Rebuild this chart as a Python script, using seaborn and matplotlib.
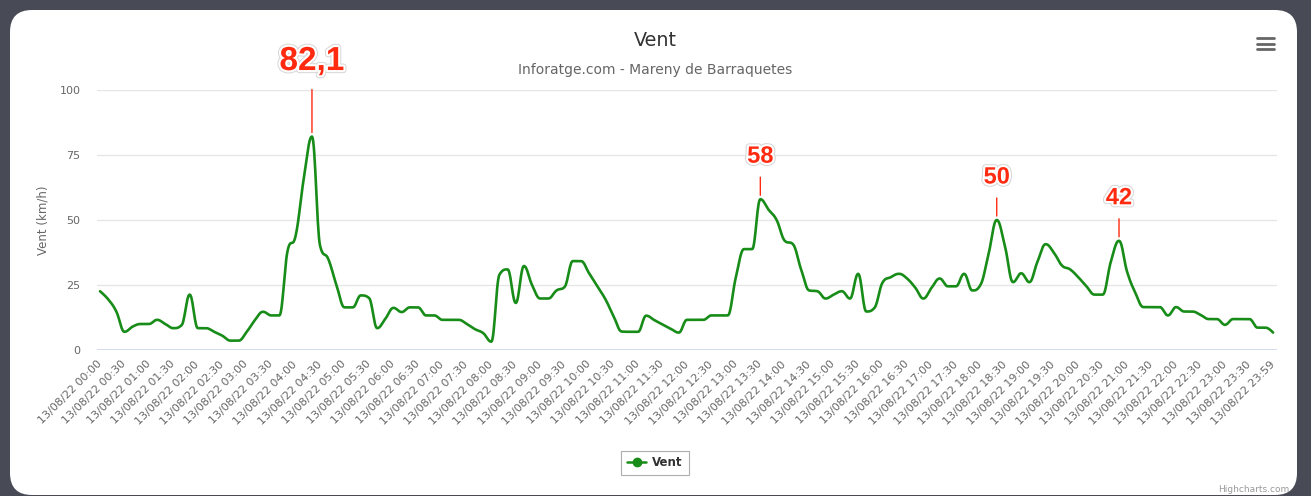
import numpy as np
import pandas as pd
import matplotlib
matplotlib.use("Agg")
import matplotlib.pyplot as plt
import seaborn as sns
from matplotlib.patches import FancyBboxPatch
from matplotlib.transforms import IdentityTransform, offset_copy
from matplotlib.lines import Line2D
import matplotlib.patheffects as pe

# ---------------- data ----------------
minutes = list(range(0, 1440, 10)) + [1439]
wind = [
    22.6, 19.5, 14.8, 7.0, 9.0, 10.0, 10.0, 11.6, 10.0, 8.4, 9.5, 21.3,
    8.4, 8.4, 7.0, 5.5, 3.6, 3.6, 7.0, 11.5, 14.7, 13.3, 13.3, 38.0,
    44.0, 66.0, 82.1, 40.0, 35.0, 25.0, 16.4, 16.4, 21.0, 20.0, 8.4, 12.0,
    16.2, 14.6, 16.4, 16.4, 13.3, 13.3, 11.6, 11.6, 11.6, 10.0, 8.0, 6.5,
    3.2, 29.0, 31.0, 18.1, 32.3, 25.0, 19.8, 19.8, 22.9, 24.3, 34.2, 34.2,
    29.5, 24.5, 19.5, 13.0, 7.1, 7.0, 7.0, 13.2, 11.5, 9.8, 8.2, 6.7,
    11.6, 11.6, 11.6, 13.3, 13.3, 13.3, 28.0, 38.8, 38.8, 58.0, 54.0, 50.0,
    42.0, 40.7, 31.0, 22.9, 22.6, 19.8, 21.3, 22.6, 19.8, 29.3, 14.8, 16.2,
    26.0, 28.0, 29.3, 27.5, 24.0, 19.8, 23.9, 27.5, 24.5, 24.5, 29.3, 22.9,
    25.0, 37.0, 50.0, 40.0, 26.1, 29.5, 26.1, 34.0, 40.7, 37.5, 32.5, 31.0,
    28.0, 24.5, 21.3, 21.3, 34.0, 42.0, 30.0, 22.0, 16.5, 16.5, 16.5, 13.3,
    16.5, 14.8, 14.8, 13.5, 11.9, 11.9, 9.7, 11.9, 11.9, 11.9, 8.6, 8.6,
    6.7,
]
tick_minutes = list(range(0, 1440, 30)) + [1439]
tick_labels = ["13/08/22 %02d:%02d" % (m // 60, m % 60) for m in tick_minutes]
y_ticks = [0, 25, 50, 75, 100]

ann_minutes = [260, 810, 1100, 1250]
ann_values = [82.1, 58, 50, 42]
ann_labels = ["82,1", "58", "50", "42"]

title = "Vent"
subtitle = "Inforatge.com - Mareny de Barraquetes"
y_title = "Vent (km/h)"
series_name = "Vent"


# ---------------- Highcharts-like spline ----------------
def hc_spline(xs, ys, n=16):
    N = len(xs)
    left = [None] * N
    right = [None] * N
    for i in range(N):
        x, y = xs[i], ys[i]
        if i == 0 or i == N - 1:
            left[i] = (x, y)
            right[i] = (x, y)
            continue
        lx, ly = xs[i - 1], ys[i - 1]
        nx, ny = xs[i + 1], ys[i + 1]
        lcx = (1.5 * x + lx) / 2.5
        lcy = (1.5 * y + ly) / 2.5
        rcx = (1.5 * x + nx) / 2.5
        rcy = (1.5 * y + ny) / 2.5
        if rcx != lcx:
            corr = ((rcy - lcy) * (rcx - x)) / (rcx - lcx) + y - rcy
            lcy += corr
            rcy += corr
        if lcy > ly and lcy > y:
            lcy = max(ly, y)
            rcy = 2 * y - lcy
        elif lcy < ly and lcy < y:
            lcy = min(ly, y)
            rcy = 2 * y - lcy
        if rcy > ny and rcy > y:
            rcy = max(ny, y)
            lcy = 2 * y - rcy
        elif rcy < ny and rcy < y:
            rcy = min(ny, y)
            lcy = 2 * y - rcy
        left[i] = (lcx, lcy)
        right[i] = (rcx, rcy)
    tt = np.linspace(0, 1, n)
    X, Y = [xs[0]], [ys[0]]
    for i in range(1, N):
        p0 = np.array([xs[i - 1], ys[i - 1]])
        p1 = np.array(right[i - 1])
        p2 = np.array(left[i])
        p3 = np.array([xs[i], ys[i]])
        for t in tt[1:]:
            p = ((1 - t) ** 3) * p0 + 3 * ((1 - t) ** 2) * t * p1 + 3 * (1 - t) * t * t * p2 + t ** 3 * p3
            X.append(p[0])
            Y.append(p[1])
    return np.array(X), np.array(Y)


sx, sy = hc_spline(minutes, wind)
df = pd.DataFrame({"t": sx, "v": sy})

# ---------------- figure ----------------
sns.set_style("white")
plt.rcParams["font.family"] = ["DejaVu Sans"]

W, H = 1311, 496
fig = plt.figure(figsize=(W / 100, H / 100), dpi=100)
fig.patch.set_facecolor("#484b55")

panel = FancyBboxPatch((10, 1), 1287, 485, boxstyle="round,pad=0,rounding_size=22",
                       facecolor="white", edgecolor="none", transform=IdentityTransform(),
                       zorder=-10)
fig.add_artist(panel)

ax = fig.add_axes([97 / W, 1 - 350 / H, (1277 - 97) / W, 260 / H])
ax.set_facecolor("none")

green = "#188c18"
sns.lineplot(data=df, x="t", y="v", sort=False, estimator=None, color=green,
             linewidth=1.9, ax=ax, legend=False)

ax.set_xlim(-3.7, 1443.8)
ax.set_ylim(0, 100)
for s in ax.spines.values():
    s.set_visible(False)
ax.set_yticks(y_ticks)
ax.set_yticklabels([str(v) for v in y_ticks])
ax.yaxis.grid(True, color="#e6e6e6", linewidth=1)
ax.xaxis.grid(False)
ax.axhline(0, color="#ccd6eb", linewidth=1.2, zorder=1)
ax.set_xticks(tick_minutes)
ax.set_xticklabels(tick_labels, rotation=45, ha="right", va="center",
                   rotation_mode="anchor")
ax.tick_params(axis="x", length=0, pad=9, labelsize=8, labelcolor="#666666")
ax.tick_params(axis="y", length=0, pad=12, labelsize=8, labelcolor="#666666")
ax.set_xlabel("")
ax.set_ylabel("")

# annotations
red = "#ff2a10"
line_len = [43, 18, 18, 18]
line_gap = [4, 4, 4, 4]
text_gap = [28, 21, 21, 21]
fsizes = [24, 17, 17, 17]
halo = [pe.Stroke(linewidth=4.5, foreground="#d8d8d8"),
        pe.Stroke(linewidth=3, foreground="white"), pe.Normal()]
for t, v, lab, ll, lg, tg, fs in zip(ann_minutes, ann_values, ann_labels,
                                     line_len, line_gap, text_gap, fsizes):
    ax.annotate("", xy=(t, v), xycoords=offset_copy(ax.transData, fig=fig, x=0, y=lg, units="dots"),
                xytext=(t, v), textcoords=offset_copy(ax.transData, fig=fig, x=0, y=lg + ll, units="dots"),
                arrowprops=dict(arrowstyle="-", color=red, lw=1, shrinkA=0, shrinkB=0),
                annotation_clip=False)
    ax.text(t, v, lab, transform=offset_copy(ax.transData, fig=fig, x=0, y=lg + ll + tg, units="dots"),
            ha="center", va="center", fontsize=fs, fontweight="bold", color=red,
            family=["Liberation Sans", "DejaVu Sans"], path_effects=halo, clip_on=False)

# titles
fig.text(655 / W, 1 - 40 / H, title, ha="center", va="center", fontsize=13.8, color="#333333")
fig.text(655 / W, 1 - 70 / H, subtitle, ha="center", va="center", fontsize=10, color="#666666")
fig.text(43 / W, 1 - 220 / H, y_title, ha="center", va="center", rotation=90,
         fontsize=8.5, color="#666666")

# legend
handle = Line2D([], [], color=green, lw=1.8, marker="o", markersize=6,
                markerfacecolor=green, markeredgecolor=green)
leg = fig.legend([handle], [series_name], loc="center", bbox_to_anchor=(655 / W, 1 - 463 / H),
                 frameon=True, fancybox=False, edgecolor="#999999", handlelength=1.6,
                 handletextpad=0.5, borderpad=0.5,
                 prop={"weight": "bold", "size": 8.5})
leg.get_frame().set_linewidth(0.8)
for txt in leg.get_texts():
    txt.set_color("#333333")

# credits
fig.text(1289 / W, 1 - 489 / H, "Highcharts.com", ha="right", va="center",
         fontsize=6.5, color="#999999")

# menu icon
for yy in [38.3, 43.8, 49.3]:
    fig.add_artist(Line2D([1257, 1274], [H - yy, H - yy], transform=IdentityTransform(),
                          color="#666666", lw=2.0, solid_capstyle="round"))

fig.savefig("out.png", dpi=100, facecolor=fig.get_facecolor())
